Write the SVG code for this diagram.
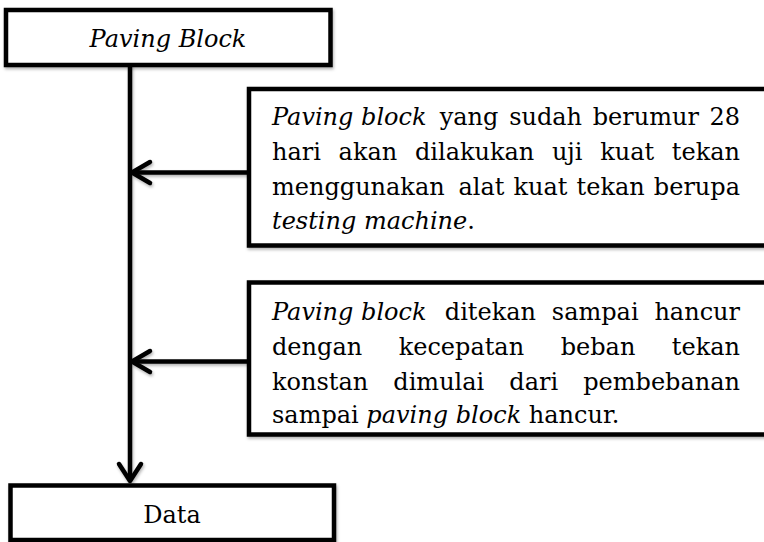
<svg xmlns="http://www.w3.org/2000/svg" width="764" height="542" viewBox="0 0 764 542">
<defs>
<style>
.box{fill:#fff;stroke:#000;stroke-width:4.5;filter:url(#sh)}
.ln{fill:none;stroke:#000;stroke-width:4.5;stroke-linecap:round;stroke-linejoin:round}
text{font-family:"DejaVu Serif","Liberation Serif",serif;font-size:24px;fill:#000}
.i{font-style:italic}
.m{text-anchor:middle}
.e{text-anchor:end}
</style>
<filter id="sh" filterUnits="userSpaceOnUse" x="0" y="0" width="764" height="542">
<feDropShadow dx="1" dy="2" stdDeviation="1.5" flood-color="#000" flood-opacity="0.3"/>
</filter>
</defs>
<g id="connectors" filter="url(#sh)">
<line class="ln" x1="130" y1="66" x2="130" y2="480"/>
<polyline class="ln" points="119,464 130,481 141,464"/>
<line class="ln" x1="132" y1="172.5" x2="249" y2="172.5"/>
<polyline class="ln" points="150,162 132,172.5 150,183"/>
<line class="ln" x1="132" y1="361.5" x2="249" y2="361.5"/>
<polyline class="ln" points="150,351 132,361.5 150,372"/>
</g>
<g id="paving-block">
<rect class="box" x="6" y="10" width="324.5" height="55"/>
<text class="i m" x="168" y="47">Paving Block</text>
</g>
<g id="step1">
<rect class="box" x="249" y="89" width="520" height="156.5"/>
<text class="i" x="272" y="125">Paving block</text>
<text class="m" x="469" y="125">yang</text>
<text class="m" x="545.6" y="125">sudah</text>
<text class="m" x="645.8" y="125">berumur</text>
<text class="e" x="740" y="125">28</text>
<text x="272" y="160">hari</text>
<text class="m" x="367.9" y="160">akan</text>
<text class="m" x="474.6" y="160">dilakukan</text>
<text class="m" x="567.2" y="160">uji</text>
<text class="m" x="627.2" y="160">kuat</text>
<text class="e" x="740" y="160">tekan</text>
<text x="272" y="195">menggunakan</text>
<text class="m" x="481.5" y="195">alat</text>
<text class="m" x="540.5" y="195">kuat</text>
<text class="m" x="610.7" y="195">tekan</text>
<text class="e" x="740" y="195">berupa</text>
<text x="272" y="229"><tspan class="i">testing machine</tspan>.</text>
</g>
<g id="step2">
<rect class="box" x="249" y="282.5" width="520" height="152"/>
<text class="i" x="272" y="320">Paving block</text>
<text class="m" x="490.4" y="320">ditekan</text>
<text class="m" x="595.2" y="320">sampai</text>
<text class="e" x="740" y="320">hancur</text>
<text x="272" y="355">dengan</text>
<text class="m" x="461.4" y="355">kecepatan</text>
<text class="m" x="598" y="355">beban</text>
<text class="e" x="740" y="355">tekan</text>
<text x="272" y="390">konstan</text>
<text class="m" x="438.8" y="390">dimulai</text>
<text class="m" x="533.7" y="390">dari</text>
<text class="e" x="740" y="390">pembebanan</text>
<text x="272" y="423">sampai <tspan class="i">paving block</tspan> hancur.</text>
</g>
<g id="data">
<rect class="box" x="10.5" y="485.5" width="323.5" height="54.5"/>
<text class="m" x="172" y="523">Data</text>
</g>
</svg>
